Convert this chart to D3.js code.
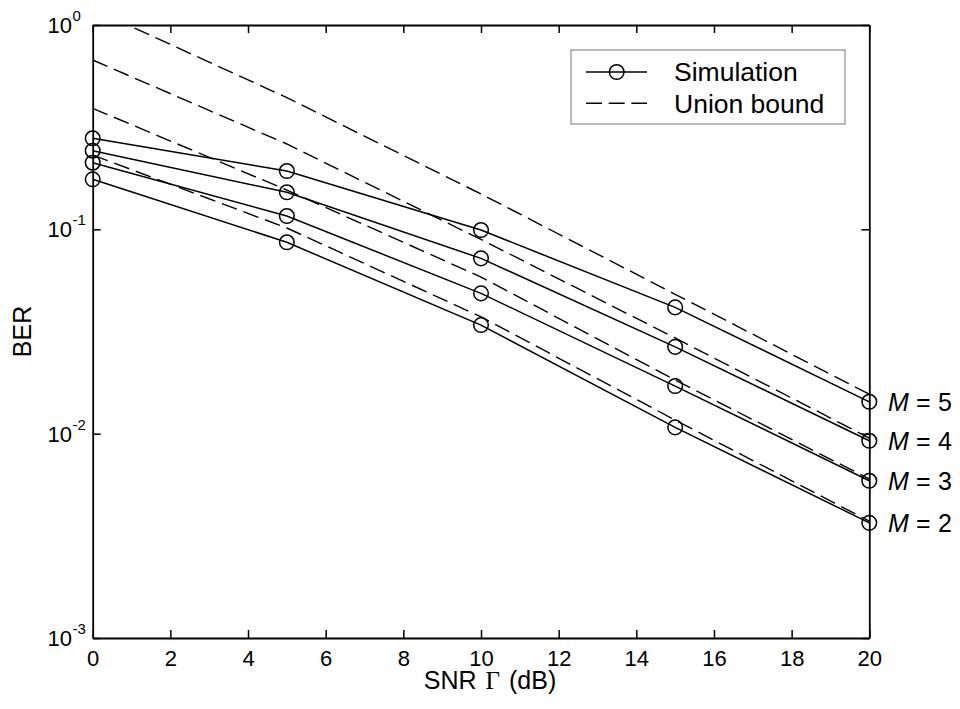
<!DOCTYPE html>
<html>
<head>
<meta charset="utf-8">
<script src="https://cdn.jsdelivr.net/npm/d3@7"></script>
<style>
  html, body { margin: 0; padding: 0; background: #fff; }
  svg { display: block; }
  text { font-family: "Liberation Sans", Arial, sans-serif; fill: #000; }
</style>
</head>
<body>
<svg id="chart" width="960" height="709"></svg>
<script>
// ---- data ----
const snr = [0, 5, 10, 15, 20];
const orders = [2, 3, 4, 5];
const sim2 = [0.1757, 0.0864, 0.0340, 0.01074, 0.00366];
const sim3 = [0.2118, 0.1162, 0.0486, 0.0171, 0.00588];
const sim4 = [0.2425, 0.1518, 0.0721, 0.0266, 0.00923];
const sim5 = [0.2789, 0.1929, 0.0992, 0.0415, 0.01432];
const ub2 = [0.231, 0.1015, 0.0373, 0.01166, 0.00373];
const ub3 = [0.391, 0.1557, 0.0584, 0.0183, 0.0060];
const ub4 = [0.674, 0.2616, 0.0892, 0.0294, 0.00952];
const ub5 = [1.199, 0.441, 0.149, 0.0481, 0.0156];
const xTicks = [0, 2, 4, 6, 8, 10, 12, 14, 16, 18, 20];
const yTickExp = [0, -1, -2, -3];
const legendLabels = ["Simulation", "Union bound"];
const xLabel = "SNR";
const yLabel = "BER";

const simSeries = [sim2, sim3, sim4, sim5];
const ubSeries = [ub2, ub3, ub4, ub5];

// ---- layout ----
const L = 92.7, R = 869.3, T = 25, B = 638;
const svg = d3.select("#chart");
const x = d3.scaleLinear().domain([0, 20]).range([L, R]);
const y = d3.scaleLog().domain([1e-3, 1]).range([B, T]);

svg.append("defs").append("clipPath").attr("id", "plotclip")
  .append("rect").attr("x", L).attr("y", T).attr("width", R - L).attr("height", B - T);

const line = d3.line().x((d, i) => x(snr[i])).y(d => y(d));
const g = svg.append("g").attr("clip-path", "url(#plotclip)");

// union bound dashed lines
ubSeries.forEach(s => {
  g.append("path").attr("d", line(s)).attr("fill", "none")
    .attr("stroke", "#000").attr("stroke-width", 1.4).attr("stroke-dasharray", "16,7");
});
// simulation solid lines
simSeries.forEach(s => {
  g.append("path").attr("d", line(s)).attr("fill", "none")
    .attr("stroke", "#000").attr("stroke-width", 1.5);
});
// markers (not clipped)
simSeries.forEach(s => {
  svg.append("g").selectAll("circle").data(s).join("circle")
    .attr("cx", (d, i) => x(snr[i])).attr("cy", d => y(d)).attr("r", 7.3)
    .attr("fill", "none").attr("stroke", "#000").attr("stroke-width", 1.5);
});

// ---- axes ----
const tickLen = 8;
const ax = svg.append("g");
const xb = d3.axisBottom(x).tickValues(xTicks).tickSizeInner(-tickLen).tickSizeOuter(0).tickPadding(12);
const gxb = ax.append("g").attr("transform", `translate(0,${B})`).call(xb);
gxb.attr("font-size", 22).attr("font-family", "Liberation Sans, Arial, sans-serif");
gxb.selectAll("text").attr("font-size", 22).attr("fill", "#000");
const xt = d3.axisTop(x).tickValues(xTicks).tickSizeInner(-tickLen).tickSizeOuter(0).tickFormat("");
ax.append("g").attr("transform", `translate(0,${T})`).call(xt);
const yTickVals = yTickExp.map(e => Math.pow(10, e));
const yl = d3.axisLeft(y).tickValues(yTickVals).tickSizeInner(-tickLen).tickSizeOuter(0).tickFormat("");
ax.append("g").attr("transform", `translate(${L},0)`).call(yl);
const yr = d3.axisRight(y).tickValues(yTickVals).tickSizeInner(-tickLen).tickSizeOuter(0).tickFormat("");
ax.append("g").attr("transform", `translate(${R},0)`).call(yr);
ax.selectAll("path.domain").attr("stroke", "#000").attr("stroke-width", 1.8);
ax.selectAll(".tick line").attr("stroke", "#000").attr("stroke-width", 1.5);

// y tick labels 10^e
yTickExp.forEach(e => {
  const yy = y(Math.pow(10, e));
  svg.append("text").attr("x", 72).attr("y", yy + 8).attr("text-anchor", "end")
    .attr("font-size", 22).text("10");
  svg.append("text").attr("x", 72.5).attr("y", yy - 4).attr("text-anchor", "start")
    .attr("font-size", 15).text(String(e));
});

// axis labels
const xl = svg.append("text").attr("x", 490).attr("y", 689).attr("text-anchor", "middle")
  .attr("font-size", 25);
xl.append("tspan").text(xLabel);
xl.append("tspan").attr("dx", 9).attr("font-family", "Liberation Serif, Times New Roman, serif").text("\u0393");
xl.append("tspan").attr("dx", 9).text("(dB)");

svg.append("text").attr("transform", `translate(31,${(T + B) / 2}) rotate(-90)`)
  .attr("text-anchor", "middle").attr("font-size", 25).text(yLabel);

// M labels at right
orders.forEach((m, k) => {
  const yy = y(simSeries[k][simSeries[k].length - 1]) + 9;
  const t = svg.append("text").attr("y", yy).attr("font-size", 25);
  t.append("tspan").attr("x", 888).attr("font-style", "italic").text("M");
  t.append("tspan").attr("x", 916).text("=");
  t.append("tspan").attr("x", 938).text(String(m));
});

// ---- legend ----
const lg = svg.append("g");
lg.append("rect").attr("x", 571).attr("y", 50).attr("width", 274).attr("height", 74)
  .attr("fill", "#fff").attr("stroke", "#777").attr("stroke-width", 1);
lg.append("line").attr("x1", 586).attr("x2", 647).attr("y1", 72).attr("y2", 72)
  .attr("stroke", "#000").attr("stroke-width", 1.5);
lg.append("circle").attr("cx", 616.7).attr("cy", 72).attr("r", 7.3)
  .attr("fill", "none").attr("stroke", "#000").attr("stroke-width", 1.5);
lg.append("line").attr("x1", 586).attr("x2", 647).attr("y1", 103.3).attr("y2", 103.3)
  .attr("stroke", "#000").attr("stroke-width", 1.4).attr("stroke-dasharray", "16,6.7");
lg.append("text").attr("x", 674).attr("y", 81).attr("font-size", 26.5).text(legendLabels[0]);
lg.append("text").attr("x", 674).attr("y", 112.5).attr("font-size", 26.5).text(legendLabels[1]);
</script>
</body>
</html>
